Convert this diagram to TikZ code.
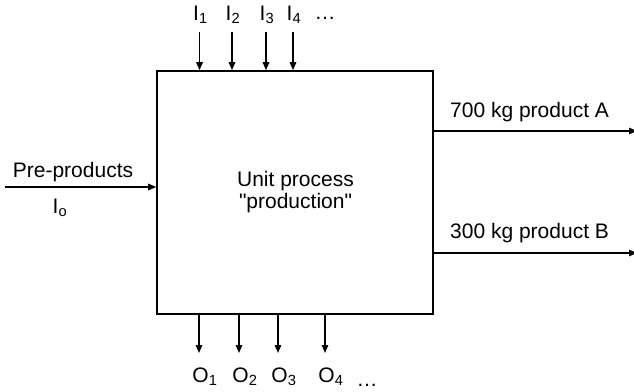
\documentclass[tikz,border=0pt]{standalone}
\usepackage{fontspec}
\setmainfont{Liberation Sans}
\usetikzlibrary{arrows.meta, positioning}

\begin{document}
\begin{tikzpicture}[x=1pt, y=-1pt,
    flow/.style={-{Triangle[length=8pt, width=6.5pt]}, line width=1.4pt},
    lbl/.style={inner sep=0pt, font=\fontsize{21}{22}\selectfont}]
  \useasboundingbox (0,0) rectangle (634,391);

  % Unit process
  \node[draw, line width=1.6pt, minimum width=276pt, minimum height=243pt, inner sep=0pt] (unit) at (295,192.5) {};
  \node[lbl, align=center] (name) at (295.5,192) {Unit process\\\textquotedbl production\textquotedbl};

  % Inputs on top
  \foreach \i/\x in {1/199.5, 2/232, 3/266, 4/293} {
    \node[lbl, anchor=base] (in\i) at (\x+1,20) {I\textsubscript{\i}};
    \coordinate (s\i) at (\x,32);
    \draw[flow] (s\i) -- (s\i |- unit.north);
  }
  \node[lbl, anchor=base] (indots) at (325,19) {\dots};

  % Outputs at bottom
  \foreach \i/\x in {1/199, 2/239, 3/278, 4/325} {
    \coordinate (e\i) at (\x,353);
    \draw[flow] (e\i |- unit.south) -- (e\i);
    \node[lbl, anchor=base] (out\i) at (\x+6,382) {O\textsubscript{\i}};
  }
  \node[lbl, anchor=base] (outdots) at (367,386) {\dots};

  % Pre-products
  \coordinate (pre) at (5,187);
  \draw[flow] (pre) -- (pre -| unit.west);
  \node[lbl, anchor=base] (prelbl) at (73,177) {Pre-products};
  \node[lbl, anchor=base] (io) at (60,213) {I\textsubscript{o}};

  % Products
  \coordinate (pa) at (637,131);
  \coordinate (pb) at (637,253);
  \draw[flow] (pa -| unit.east) -- (pa);
  \draw[flow] (pb -| unit.east) -- (pb);
  \node[lbl, anchor=base west] (alb) at (450,117) {700 kg product A};
  \node[lbl, anchor=base west] (blb) at (450,238) {300 kg product B};
\end{tikzpicture}
\end{document}
